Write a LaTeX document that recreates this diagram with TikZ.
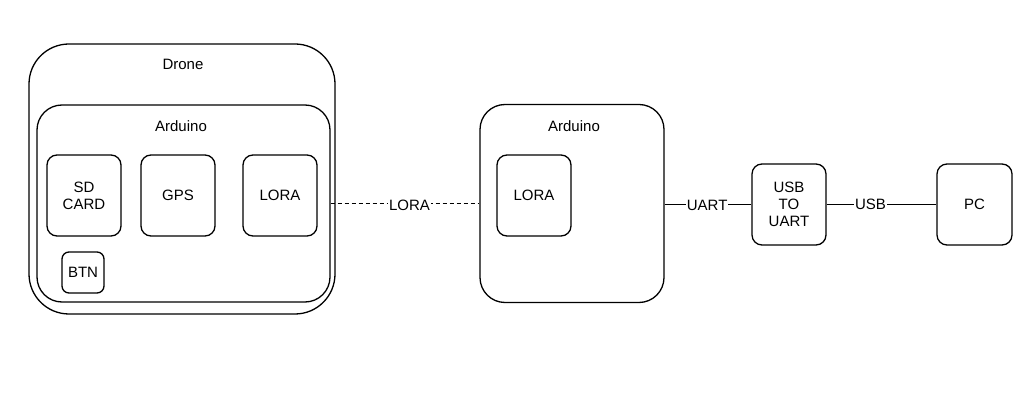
\documentclass[tikz,border=0pt]{standalone}
\usepackage{fontspec}
\setmainfont{Liberation Sans}
\begin{document}
\begin{tikzpicture}[x=1pt,y=-1pt,
  box/.style={draw, line width=1.3pt, rounded corners=#1, inner sep=0pt, align=center, font=\fontsize{15}{17}\selectfont},
  box/.default=10pt,
  lbl/.style={font=\fontsize{15}{17}\selectfont, inner sep=1pt},
  conn/.style={line width=1.3pt},
  txt/.style={font=\fontsize{15}{17}\selectfont, fill=white, inner sep=1pt}]
\useasboundingbox (0,0) rectangle (1024,411);
% Drone outer
\node[box=40pt, minimum width=306pt, minimum height=270pt] (drone) at (182,179) {};
\node[lbl] (dronel) at (183,64) {Drone};
\node[box=25pt, minimum width=293pt, minimum height=197pt] (ardL) at (183.5,203.5) {};
\node[lbl] (ardLl) at (181,126) {Arduino};
\node[box, minimum width=74pt, minimum height=81pt] (sd) at (84,195.5) {SD\\CARD};
\node[box, minimum width=74pt, minimum height=81pt] (gps) at (178,195.5) {GPS};
\node[box, minimum width=74pt, minimum height=81pt] (loraL) at (280,195.5) {LORA};
\node[box=7pt, minimum width=42pt, minimum height=41pt] (btn) at (83,272.5) {BTN};
% Right Arduino
\node[box=25pt, minimum width=184pt, minimum height=198pt] (ardR) at (572,203.5) {};
\node[lbl] (ardRl) at (574,126) {Arduino};
\node[box, minimum width=74pt, minimum height=81pt] (loraR) at (534,195.5) {LORA};
% USB to UART and PC
\node[box, minimum width=74pt, minimum height=81pt] (usb) at (789,204.5) {USB\\TO\\UART};
\node[box, minimum width=75pt, minimum height=81pt] (pc) at (974.5,204.5) {PC};
% connectors
\draw[conn, dash pattern=on 4pt off 3pt] (ardL.east) -- node[txt, pos=0.53, yshift=-2pt] {LORA} (ardR.west);
\draw[conn] (ardR.east |- usb.west) -- node[txt, pos=0.49, yshift=-1pt] {UART} (usb.west);
\draw[conn] (usb.east) -- node[txt, pos=0.4] {USB} (pc.west);
\end{tikzpicture}
\end{document}
